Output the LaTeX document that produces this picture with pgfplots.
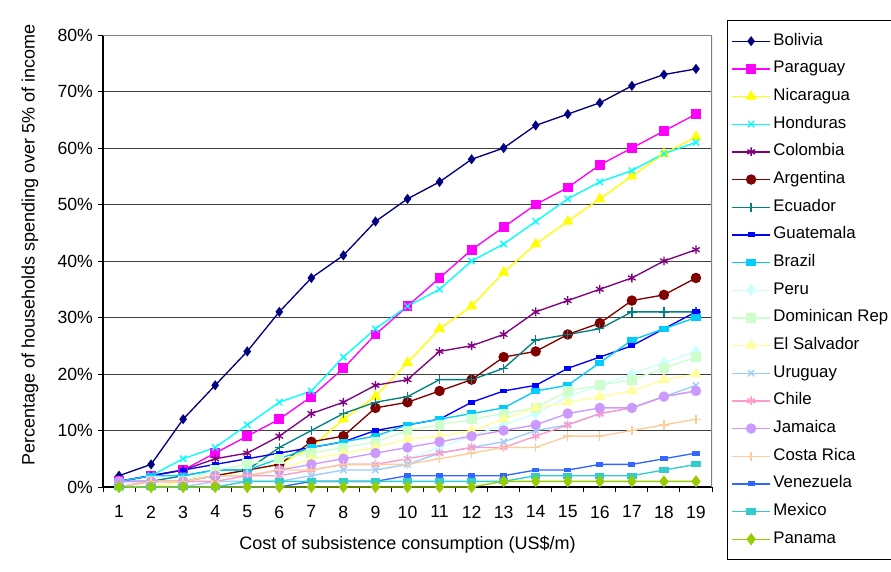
\documentclass[border=0pt]{standalone}
\usepackage{fontspec}
\setmainfont{Liberation Sans}
\usepackage{pgfplots}
\usepackage{pgfplotstable}
\pgfplotsset{compat=1.18}

\definecolor{cBol}{HTML}{000080}
\definecolor{cPar}{HTML}{FF00FF}
\definecolor{cNic}{HTML}{FFFF00}
\definecolor{cHon}{HTML}{00FFFF}
\definecolor{cCol}{HTML}{800080}
\definecolor{cArg}{HTML}{800000}
\definecolor{cEcu}{HTML}{008080}
\definecolor{cGua}{HTML}{0000FF}
\definecolor{cBra}{HTML}{00CCFF}
\definecolor{cPer}{HTML}{CCFFFF}
\definecolor{cDom}{HTML}{CCFFCC}
\definecolor{cSal}{HTML}{FFFF99}
\definecolor{cUru}{HTML}{99CCFF}
\definecolor{cChi}{HTML}{FF99CC}
\definecolor{cJam}{HTML}{CC99FF}
\definecolor{cCos}{HTML}{FFCC99}
\definecolor{cVen}{HTML}{3366FF}
\definecolor{cMex}{HTML}{33CCCC}
\definecolor{cPan}{HTML}{99CC00}

% share of households (%) by subsistence cost (US$/m)
\pgfplotstableread{
x Bol Par Nic Hon Col Arg Ecu Gua Bra Per Dom Sal Uru Chi Jam Cos Ven Mex Pan
1  2  1  0  1  1  0  1  1  1  0  0  0  0  0  1  0  0  0  0
2  4  2  0  2  2  1  1  2  2  1  1  0  0  1  1  1  0  0  0
3  12 3  1  5  3  1  2  3  2  1  1  1  0  1  1  1  0  0  0
4  18 6  2  7  5  2  3  4  3  2  3  1  1  1  2  2  0  0  0
5  24 9  3  11 6  3  3  5  3  2  4  2  1  2  2  2  0  1  0
6  31 12 4  15 9  4  7  6  5  2  5  3  1  2  3  3  0  1  0
7  37 16 7  17 13 8  10 7  7  3  6  5  2  3  4  3  1  1  0
8  41 21 12 23 15 9  13 8  8  4  7  6  3  4  5  4  1  1  0
9  47 27 16 28 18 14 15 10 9  4  8  7  3  4  6  4  1  1  0
10 51 32 22 32 19 15 16 11 11 5  10 8.5 4 5  7  4  2  1  0
11 54 37 28 35 24 17 19 12 12 7  11 9  6  6  8  5  2  1  0
12 58 42 32 40 25 19 19 15 13 9  12 10 7  7  9  6  2  1  0
13 60 46 38 43 27 23 21 17 14 11 13 12 8  7  10 7  2  1  1
14 64 50 43 47 31 24 26 18 17 13 14 14 10 9  11 7  3  2  1
15 66 53 47 51 33 27 27 21 18 16 17 15 11 11 13 9  3  2  1
16 68 57 51 54 35 29 28 23 22 18 18 16 13 13 14 9  4  2  1
17 71 60 55 56 37 33 31 25 26 20 19 17 14 14 14 10 4  2  1
18 73 63 59 59 40 34 31 28 28 22 21 19 16 16 16 11 5  3  1
19 74 66 62 61 42 37 31 31 30 24 23 20 18 17 17 12 6  4  1
}\data

\begin{document}
\begin{tikzpicture}
\useasboundingbox (0,0) rectangle (668.25pt,428.25pt);
\begin{axis}[
    at={(77.25pt,63pt)}, anchor=south west,
    scale only axis, width=456.75pt, height=339pt,
    xmin=0.5, xmax=19.5, ymin=0, ymax=80,
    xtick={1,...,19},
    minor xtick={0.5,1.5,...,19.5},
    ytick={0,10,...,80},
    yticklabel={\pgfmathprintnumber{\tick}\%},
    /pgf/number format/assume math mode=true,
    tick align=outside,
    major tick length=4pt,
    minor tick length=4pt,
    x tick style={draw=none},
    minor x tick style={draw=black, line width=0.75pt},
    y tick style={draw=black, line width=0.75pt},
    axis x line*=bottom, axis y line*=left,
    axis line style={black, line width=1pt, -},
    ymajorgrids,
    major grid style={black!75, line width=0.75pt},
    ticklabel style={font=\fontsize{13.25}{15}\selectfont},
    xticklabel style={yshift=-6.5pt},
    label style={font=\fontsize{13.5}{15}\selectfont},
    xlabel={Cost of subsistence consumption (US\$/m)},
    ylabel={Percentage of households spending over 5\% of income},
    xlabel style={at={(axis description cs:0.5,-0.128)}, anchor=center},
    ylabel style={at={(axis description cs:-0.12,0.535)}, anchor=center},
    every axis plot/.append style={line width=1pt},
    legend image code/.code={
        \draw[mark repeat=2,mark phase=2,#1]
        plot coordinates {(0cm,0cm) (0.5cm,0cm) (1cm,0cm)};},
    legend style={
        at={(1.0246,1.0332)}, anchor=north west,
        draw=black, line width=0.75pt,
        font=\fontsize{12.6}{15}\selectfont,
        legend cell align=left,
        inner xsep=3pt, inner ysep=7.5pt,
        row sep=4.75pt,
        nodes={inner sep=2pt, text height=9pt, text depth=3pt},
    },
]
\addplot[cBol, mark=diamond*, mark size=3pt, mark options={solid}] table[x=x,y=Bol] {\data};
\addplot[cPar, mark=square*, mark size=3.2pt] table[x=x,y=Par] {\data};
\addplot[cNic, mark=triangle*, mark size=3.8pt] table[x=x,y=Nic] {\data};
\addplot[cHon, mark=x, mark size=3.3pt] table[x=x,y=Hon] {\data};
\addplot[cCol, mark=asterisk, mark size=3.3pt] table[x=x,y=Col] {\data};
\addplot[cArg, mark=*, mark size=3.4pt] table[x=x,y=Arg] {\data};
\addplot[cEcu, mark=+, mark size=3.5pt] table[x=x,y=Ecu] {\data};
\addplot[cGua, mark=square*, mark size=2.2pt, mark options={yscale=0.6}] table[x=x,y=Gua] {\data};
\addplot[cBra, mark=square*, mark size=3pt, mark options={yscale=0.6}] table[x=x,y=Bra] {\data};
\addplot[cPer, mark=diamond*, mark size=3.8pt] table[x=x,y=Per] {\data};
\addplot[cDom, mark=square*, mark size=3.2pt] table[x=x,y=Dom] {\data};
\addplot[cSal, mark=triangle*, mark size=3.8pt] table[x=x,y=Sal] {\data};
\addplot[cUru, mark=x, mark size=3.3pt] table[x=x,y=Uru] {\data};
\addplot[cChi, mark=asterisk, mark size=3.3pt] table[x=x,y=Chi] {\data};
\addplot[cJam, mark=*, mark size=3.4pt] table[x=x,y=Jam] {\data};
\addplot[cCos, mark=+, mark size=3.5pt] table[x=x,y=Cos] {\data};
\addplot[cVen, mark=square*, mark size=2.2pt, mark options={yscale=0.6}] table[x=x,y=Ven] {\data};
\addplot[cMex, mark=square*, mark size=3pt, mark options={yscale=0.6}] table[x=x,y=Mex] {\data};
\addplot[cPan, mark=diamond*, mark size=3.8pt] table[x=x,y=Pan] {\data};
\legend{Bolivia, Paraguay, Nicaragua, Honduras, Colombia, Argentina, Ecuador,
  Guatemala, Brazil, Peru, Dominican Rep, El Salvador, Uruguay, Chile, Jamaica,
  Costa Rica, Venezuela, Mexico, Panama}
\draw[gray, line width=1pt] (rel axis cs:0,1) -- (rel axis cs:1,1) -- (rel axis cs:1,0);
\end{axis}
\end{tikzpicture}
\end{document}
